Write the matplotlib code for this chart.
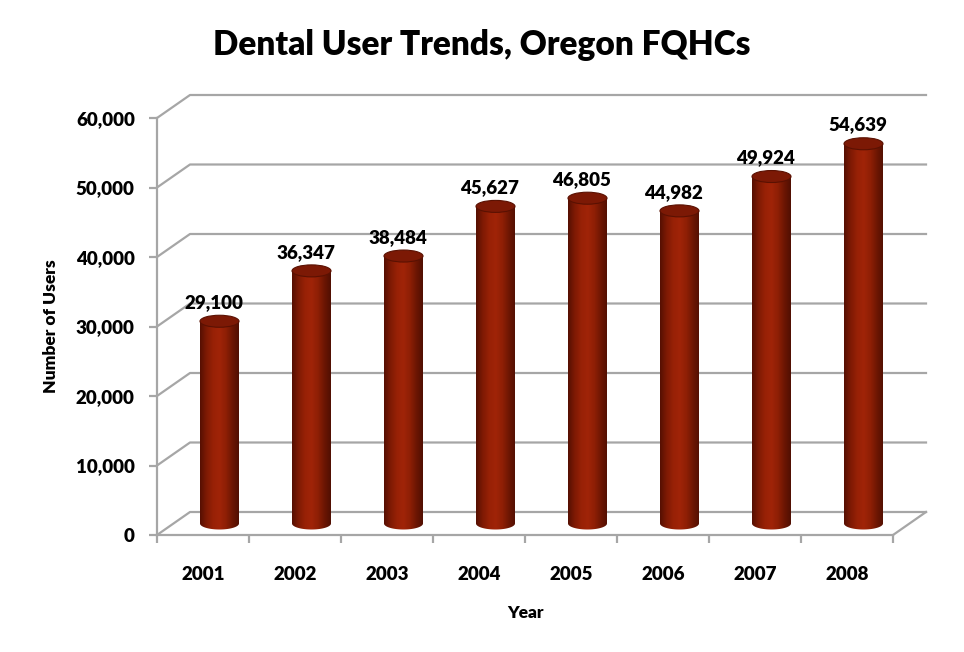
import numpy as np
import matplotlib.pyplot as plt
from matplotlib.patches import Ellipse, PathPatch
from matplotlib.path import Path
from matplotlib.colors import LinearSegmentedColormap

years = ['2001', '2002', '2003', '2004', '2005', '2006', '2007', '2008']
users = [29100, 36347, 38484, 45627, 46805, 44982, 49924, 54639]
yticks = [0, 10000, 20000, 30000, 40000, 50000, 60000]

plt.rcParams['font.family'] = ['Lato', 'DejaVu Sans']
W = 'heavy'

fig = plt.figure(figsize=(9.64, 6.52), dpi=100)
# front plane of the 3d box
ax = fig.add_axes([157/964, 117/652, 736/964, 417/652])
ax.set_xlim(-0.5, 7.5)
ax.set_ylim(0, 60000)

# depth offset of the back wall (pixels -> data)
px_x = 8 / 736.0
px_y = 60000 / 417.0
ddx = 33 * px_x
ddy = 23 * px_y

grid_col = '#a6a6a6'
for v in yticks:
    ax.plot([-0.5, -0.5 + ddx, 7.5 + ddx], [v, v + ddy, v + ddy],
            color=grid_col, lw=1.6, clip_on=False, zorder=1)
ax.plot([7.5, 7.5 + ddx], [0, ddy], color=grid_col, lw=1.6,
        clip_on=False, zorder=1)

# cylinders
cmap = LinearSegmentedColormap.from_list(
    'cyl', ['#550f02', '#7e1a04', '#982106', '#a02408', '#8e1f05', '#6c1603', '#500f02'])
grad = np.linspace(0, 1, 256).reshape(1, -1)
bw = 39 * px_x
eh = 12 * px_y
for i, val in enumerate(users):
    cx = i + ddx / 2
    y0 = ddy / 2
    y1 = val + ddy / 2
    t = np.linspace(np.pi, 2 * np.pi, 40)
    bx = cx + bw / 2 * np.cos(t)
    by = y0 + eh / 2 * np.sin(t)
    verts = [(cx - bw / 2, y1)] + list(zip(bx, by)) + [(cx + bw / 2, y1), (cx - bw / 2, y1)]
    clip = PathPatch(Path(verts), transform=ax.transData, facecolor='none', edgecolor='none')
    ax.add_patch(clip)
    im = ax.imshow(grad, cmap=cmap, aspect='auto', zorder=3,
                   extent=[cx - bw / 2, cx + bw / 2, y0 - eh, y1])
    im.set_clip_path(clip)
    ax.add_patch(Ellipse((cx, y1), bw, eh, facecolor='#7c1905',
                         edgecolor='#5a1102', lw=0.8, zorder=4))
    ax.text(cx - 0.06, y1 + eh / 2 + 600, f'{val:,}', ha='center', va='bottom',
            fontsize=13.5, fontweight=W, zorder=5)

ax.set_xlim(-0.5, 7.5)
ax.set_ylim(0, 60000)

for s in ['top', 'right']:
    ax.spines[s].set_visible(False)
for s in ['left', 'bottom']:
    ax.spines[s].set_color(grid_col)
    ax.spines[s].set_linewidth(1.6)

ax.set_yticks(yticks)
ax.set_yticklabels([f'{v:,}' for v in yticks], fontsize=13.5, fontweight=W)
ax.set_xticks(np.arange(len(years)))
ax.set_xticklabels(years, fontsize=13.5, fontweight=W)
ax.set_xticks(np.arange(-0.5, 8, 1), minor=True)
ax.tick_params(axis='x', which='major', length=0, pad=22)
ax.tick_params(axis='x', which='minor', length=6, width=1.6, color=grid_col, direction='out')
ax.tick_params(axis='y', length=6, width=1.6, color=grid_col, direction='out', pad=10)

ax.set_ylabel('Number of Users', fontsize=12.5, fontweight=W, labelpad=12)
ax.set_xlabel('Year', fontsize=12.5, fontweight=W, labelpad=16)

fig.text(0.5, 1 - 45/652, 'Dental User Trends, Oregon FQHCs', ha='center', va='center',
         fontsize=24, fontweight=W)

fig.savefig('out.png', dpi=100)
